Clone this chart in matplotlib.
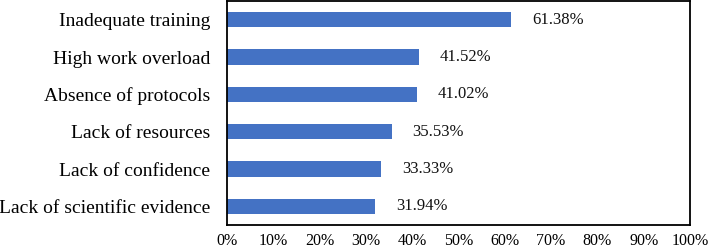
import matplotlib
matplotlib.use("Agg")
import matplotlib.pyplot as plt
from matplotlib.ticker import FuncFormatter

categories = ["Inadequate training", "High work overload", "Absence of protocols",
              "Lack of resources", "Lack of confidence", "Lack of scientific evidence"]
values = [61.38, 41.52, 41.02, 35.53, 33.33, 31.94]
xticks = [0, 10, 20, 30, 40, 50, 60, 70, 80, 90, 100]

plt.rcParams['font.family'] = ['Liberation Serif', 'DejaVu Serif']

fig = plt.figure(figsize=(7.08, 2.5), dpi=100)
ax = fig.add_axes([227/708, 1 - 225/250, (690-227)/708, 224/250])

y = list(range(len(categories)))[::-1]
ax.barh(y, values, height=0.41, color='#4472C4')
for yi, v in zip(y, values):
    ax.annotate(f"{v:.2f}%", (v, yi), xytext=(15, 0), textcoords='offset points',
                va='center', ha='left', fontsize=12, color='#111111')

ax.set_xlim(0, 100)
ax.set_ylim(-0.5, len(categories) - 0.5)
ax.set_yticks(y)
ax.set_yticklabels(categories, fontsize=14)
ax.set_xticks(xticks)
ax.xaxis.set_major_formatter(FuncFormatter(lambda v, p: f"{int(v)}%"))
ax.tick_params(axis='x', length=0, pad=5.5, labelsize=11.5)
ax.tick_params(axis='y', length=0, pad=12)
for s in ax.spines.values():
    s.set_linewidth(1.3)
    s.set_color('black')

fig.savefig("out.png", dpi=100)
